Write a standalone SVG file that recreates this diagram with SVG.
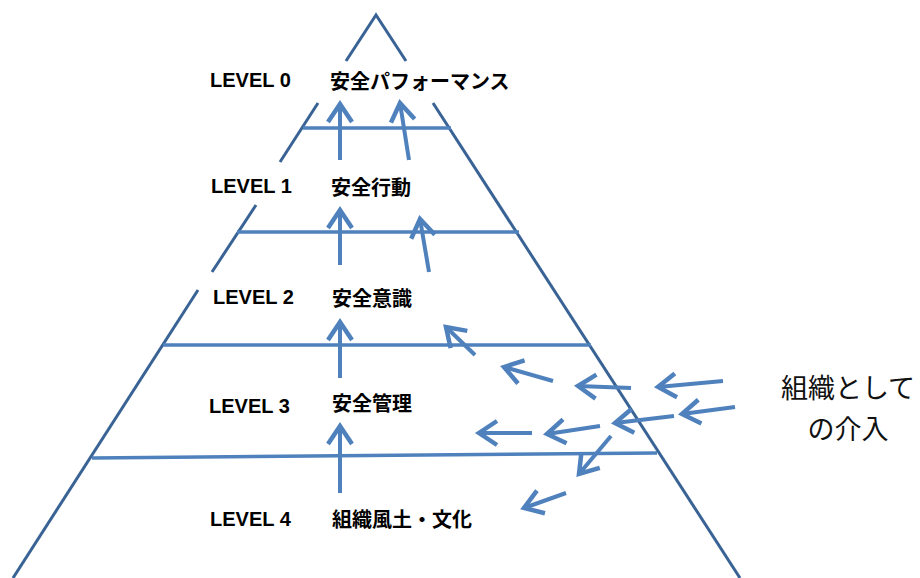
<svg xmlns="http://www.w3.org/2000/svg" width="920" height="578" viewBox="0 0 920 578">
<defs>
<style>
.edge{stroke:#3A6395;stroke-width:3;fill:none}
.hl{stroke:#4F81BD;stroke-width:3.5;fill:none}
.ar{stroke:#4F81BD;stroke-width:4;fill:none;marker-end:url(#head)}
.lv{font-family:"Liberation Sans",Arial,sans-serif;font-weight:bold;font-size:20px;fill:#000}
.jp{font-family:"Noto Sans CJK JP","Noto Sans",sans-serif;font-weight:bold;font-size:20px;fill:#000}
.side{font-family:"Noto Sans CJK JP","Noto Sans",sans-serif;font-size:27px;fill:#111;text-anchor:middle}
</style>
<marker id="head" markerUnits="userSpaceOnUse" viewBox="-24 -16 30 32" refX="0" refY="0" markerWidth="30" markerHeight="32" orient="auto">
<path d="M-18,-12 L0,0 L-18,12" stroke="#4F81BD" stroke-width="4.5" fill="none" stroke-linejoin="miter"/>
</marker>
</defs>
<rect width="920" height="578" fill="#fff"/>
<g id="pyramid">
<polyline class="edge" points="346,61 376,15 406,61"/>
<line class="edge" x1="318" y1="103" x2="280" y2="162"/>
<line class="edge" x1="256" y1="205" x2="212" y2="272"/>
<line class="edge" x1="198" y1="290" x2="13" y2="578"/>
<line class="edge" x1="433" y1="103" x2="740" y2="578"/>
</g>
<g id="levels">
<line class="hl" x1="303" y1="128" x2="451" y2="128"/>
<line class="hl" x1="237" y1="232" x2="519" y2="232"/>
<line class="hl" x1="163" y1="345" x2="591" y2="345"/>
<line class="hl" x1="92" y1="458" x2="657" y2="453"/>
</g>
<g id="level0"><text class="lv" x="210" y="87">LEVEL 0</text><text class="jp" x="330" y="89">安全パフォーマンス</text></g>
<g id="level1"><text class="lv" x="211" y="193">LEVEL 1</text><text class="jp" x="331" y="195">安全行動</text></g>
<g id="level2"><text class="lv" x="213" y="304">LEVEL 2</text><text class="jp" x="332" y="306">安全意識</text></g>
<g id="level3"><text class="lv" x="209" y="413">LEVEL 3</text><text class="jp" x="332" y="411">安全管理</text></g>
<g id="level4"><text class="lv" x="210" y="526">LEVEL 4</text><text class="jp" x="332" y="527">組織風土・文化</text></g>
<g id="intervention"><text class="side" x="848" y="398">組織として</text><text class="side" x="848" y="439">の介入</text></g>
<g id="connectors">
<line class="ar" x1="340" y1="160" x2="340" y2="104"/>
<line class="ar" x1="409" y1="160" x2="400" y2="103"/>
<line class="ar" x1="340" y1="265" x2="340" y2="210"/>
<line class="ar" x1="429" y1="272" x2="420" y2="219"/>
<line class="ar" x1="340" y1="378" x2="340" y2="322"/>
<line class="ar" x1="340" y1="493" x2="340" y2="426"/>
<line class="ar" x1="475" y1="355" x2="446" y2="327"/>
<line class="ar" x1="553" y1="381" x2="504" y2="367"/>
<line class="ar" x1="631" y1="388" x2="578" y2="386"/>
<line class="ar" x1="723" y1="381" x2="658" y2="387"/>
<line class="ar" x1="735" y1="407" x2="682" y2="414"/>
<line class="ar" x1="674" y1="416" x2="615" y2="423"/>
<line class="ar" x1="600" y1="426" x2="547" y2="434"/>
<line class="ar" x1="532" y1="433" x2="479" y2="433"/>
<line class="ar" x1="611" y1="436" x2="579" y2="474"/>
<line class="ar" x1="566" y1="493" x2="524" y2="508"/>
</g>
</svg>
